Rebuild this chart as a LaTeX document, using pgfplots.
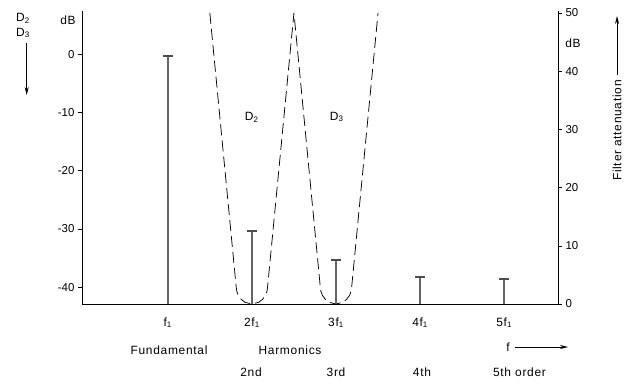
\documentclass[border=0pt]{standalone}
\usepackage{fontspec}
\setmainfont{Liberation Sans}
\newfontfamily\lsfont{Liberation Sans}[LetterSpace=6]
\usepackage{pgfplots}
\pgfplotsset{compat=1.18}
\usetikzlibrary{arrows.meta}
\newcommand{\lbl}{\lsfont\fontsize{12}{14}\selectfont}
\newcommand{\tkl}{\fontsize{11.5}{13}\selectfont}
\begin{document}
\begin{tikzpicture}[x=1bp,y=1bp]
\path[use as bounding box] (-82,-76) rectangle (552,304);
% left axis: harmonic level D2, D3 in dB
\begin{axis}[at={(0,0)}, anchor=south west, scale only axis,
  width=476bp, height=293bp,
  xmin=-0.02, xmax=5.64, ymin=-42.9, ymax=7.44,
  axis x line=none, axis y line*=left,
  y axis line style={-, line width=0.75pt},
  ytick={-40,-30,-20,-10,0}, yticklabels={-40,-30,-20,-10,0},
  tick align=outside, major tick length=4bp,
  tick style={black, line width=0.6pt},
  yticklabel style={font=\tkl},
  clip=false]
\end{axis}
% right axis: filter attenuation in dB
\begin{axis}[at={(0,0)}, anchor=south west, scale only axis,
  width=476bp, height=293bp,
  xmin=-0.02, xmax=5.64, ymin=0, ymax=50.34,
  axis x line*=bottom, axis y line*=right,
  x axis line style={-, line width=0.6pt},
  y axis line style={-, line width=0.75pt},
  xtick={1,2,3,4,5},
  xticklabels={f\textsubscript{1},2f\textsubscript{1},3f\textsubscript{1},4f\textsubscript{1},5f\textsubscript{1}},
  x tick style={draw=none},
  xticklabel style={font=\lbl, yshift=-6bp},
  ytick={0,10,20,30,40,50},
  yticklabels={0,10,20,30,40,50},
  tick align=outside, major tick length=4bp,
  y tick style={black, line width=0.6pt},
  yticklabel style={font=\tkl},
  clip=false]
% filter characteristics D2 (around 2f1) and D3 (around 3f1)
\addplot[black, line width=0.75pt, dash pattern=on 11bp off 5bp] coordinates {
  (1.5,50) (1.813,3) (1.82,2.2) (1.838,1.5) (1.873,0.8) (1.918,0.3) (2,0)
  (2.082,0.3) (2.127,0.8) (2.162,1.5) (2.18,2.2) (2.187,3) (2.5,50)
  (2.813,3) (2.82,2.2) (2.838,1.5) (2.873,0.8) (2.918,0.3) (3,0)
  (3.082,0.3) (3.127,0.8) (3.162,1.5) (3.18,2.2) (3.187,3) (3.5,50)};
% spectral lines, values in dB of the left scale
\addplot[ycomb, black!60, line width=2.2bp, mark=-, mark size=5bp,
  mark options={line width=1.8bp, black!70},
  y filter/.expression={y+42.9}] coordinates {
  (1,-0.3) (2,-30.3) (3,-35.3) (4,-38.2) (5,-38.6)};
\end{axis}
% annotations
\node[font=\lbl] at (-59,286) {D\textsubscript{2}};
\node[font=\lbl] at (-59,271) {D\textsubscript{3}};
\draw[line width=0.7pt, -{Stealth[length=8bp,width=4bp]}] (-55.3,261) -- (-55.3,209);
\node[font=\lbl] at (-14,284) {dB};
\node[font=\lbl] at (491,261) {dB};
\node[font=\lbl, rotate=90] at (535,173.5) {Filter attenuation};
\draw[line width=0.7pt, -{Stealth[length=8bp,width=4bp]}] (535,229) -- (535,288);
\node[font=\lbl] at (169.7,187) {D\textsubscript{2}};
\node[font=\lbl] at (254.7,187) {D\textsubscript{3}};
\node[font=\lbl] at (87,-46) {Fundamental};
\node[font=\lbl] at (208,-46) {Harmonics};
\node[font=\lbl] at (426,-43) {f};
\draw[line width=0.7pt, -{Stealth[length=8bp,width=4bp]}] (433,-43) -- (486,-43);
\node[font=\lbl] at (169,-68) {2nd};
\node[font=\lbl] at (254,-68) {3rd};
\node[font=\lbl] at (340,-68) {4th};
\node[font=\lbl] at (437.5,-68) {5th order};
\end{tikzpicture}
\end{document}
